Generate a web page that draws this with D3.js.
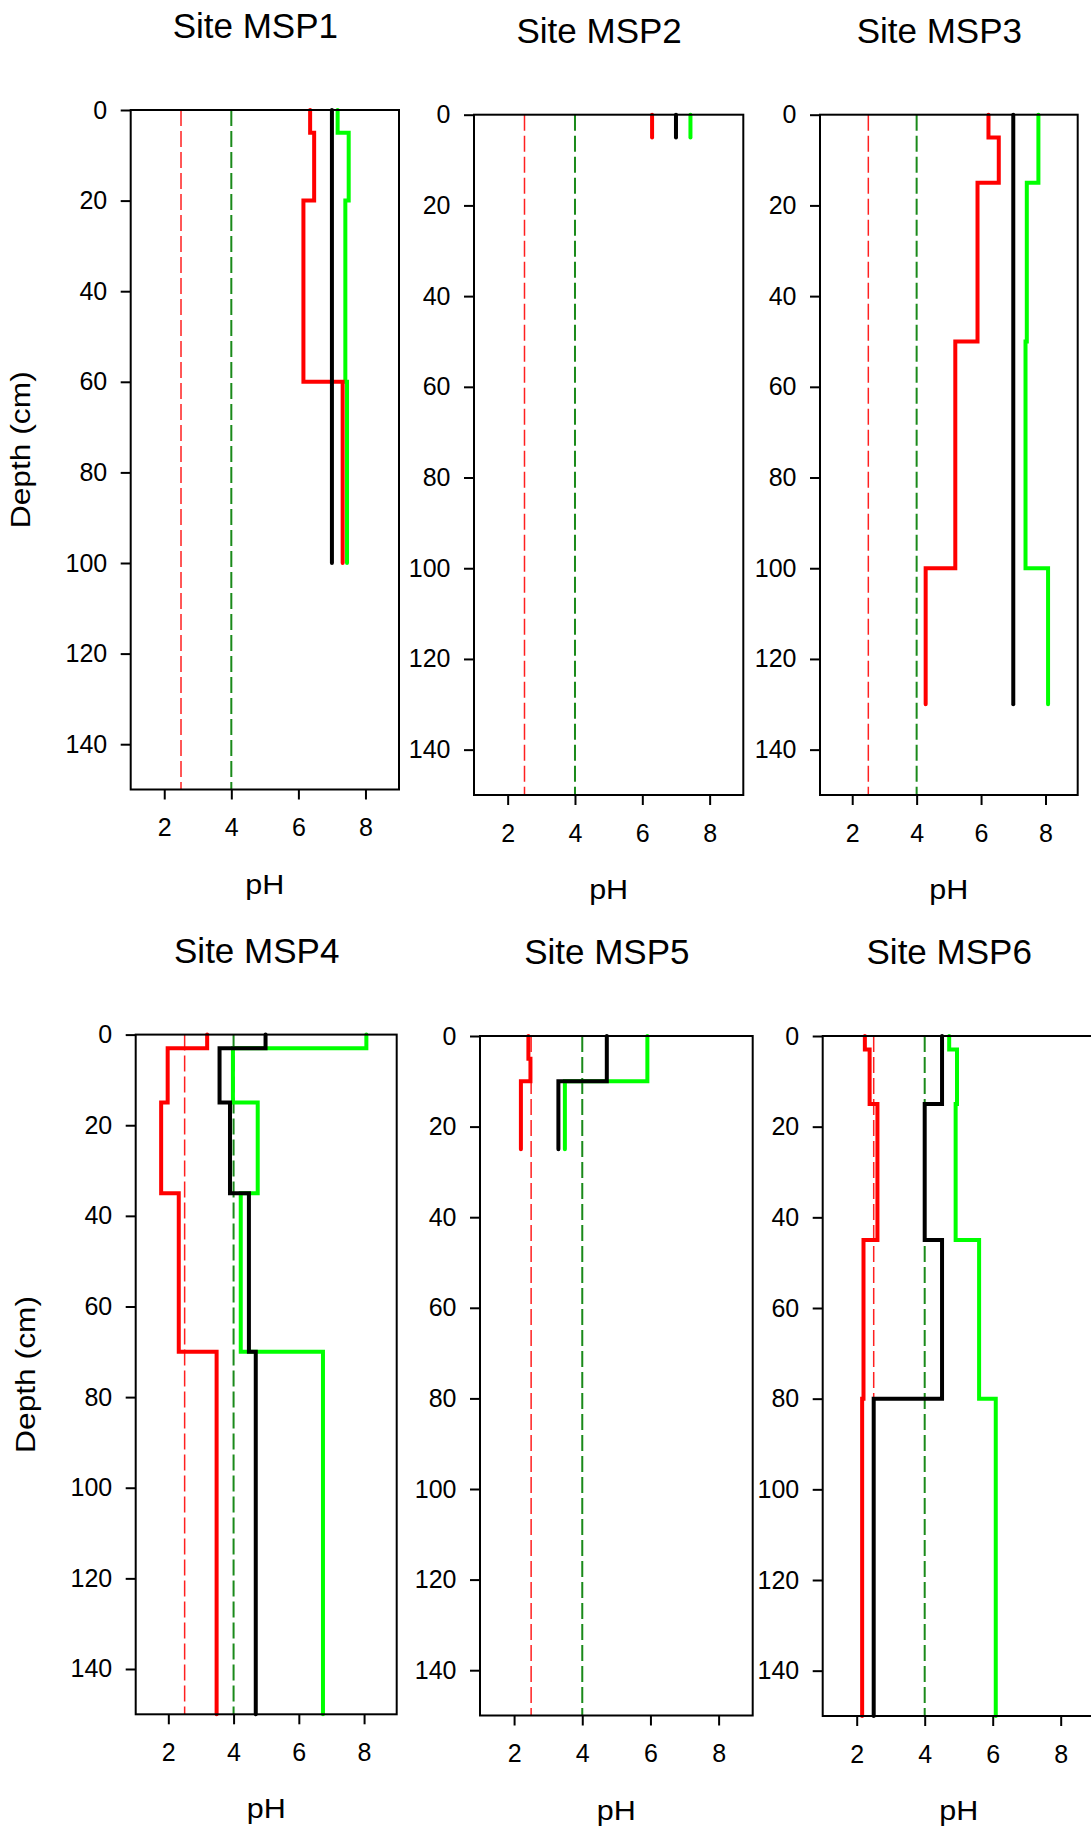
<!DOCTYPE html>
<html>
<head>
<meta charset="utf-8">
<script src="https://cdn.jsdelivr.net/npm/d3@7"></script>
<style>
  html, body { margin: 0; padding: 0; background: #ffffff; }
  svg { display: block; }
  text { font-family: "Liberation Sans", Arial, Helvetica, sans-serif; fill: #000; }
</style>
</head>
<body>
<script>
// ---------------- DATA ----------------
const siteTitles = ["Site MSP1", "Site MSP2", "Site MSP3", "Site MSP4", "Site MSP5", "Site MSP6"];

// depth boundaries (cm) of each sampled layer, per site
const depthBreaks = [
  [0, 5, 20, 60, 100],
  [0, 5],
  [0, 5, 15, 50, 100, 130],
  [0, 3, 15, 35, 70, 150],
  [0, 5, 10, 25],
  [0, 3, 15, 45, 80, 150]
];

// pH of each layer (red series)
const redPH = [
  [6.35, 6.47, 6.15, 7.32],
  [6.29],
  [6.23, 6.55, 5.89, 5.20, 4.28],
  [3.19, 1.98, 1.78, 2.32, 3.48],
  [2.42, 2.48, 2.20],
  [2.24, 2.38, 2.61, 2.20, 2.16]
];

// pH of each layer (black series)
const blackPH = [
  [7.00, 7.00, 7.00, 7.00],
  [7.00],
  [7.00, 7.00, 7.00, 7.00, 7.00],
  [4.98, 3.57, 3.89, 4.47, 4.68],
  [4.72, 4.72, 3.30],
  [4.51, 4.51, 4.00, 4.51, 2.50]
];

// pH of each layer (green series)
const greenPH = [
  [7.17, 7.50, 7.40, 7.45],
  [7.43],
  [7.78, 7.78, 7.42, 7.38, 8.08],
  [8.07, 3.98, 4.74, 4.22, 6.74],
  [5.91, 5.91, 3.49],
  [4.72, 4.95, 4.91, 5.60, 6.09]
];

// reference thresholds (dashed lines)
const redThreshold = 2.5;
const greenThreshold = 4.0;

// axes
const phDomain = [1, 9];
const depthDomain = [0, 150];
const phTicks = [2, 4, 6, 8];
const depthTicks = [0, 20, 40, 60, 80, 100, 120, 140];
const xAxisLabel = "pH";
const yAxisLabel = "Depth (cm)";

// ---------------- LAYOUT ----------------
const panelBoxes = [
  { left: 130.7, right: 399.0, top: 110.0, bottom: 789.5, ylab: true },
  { left: 474.0, right: 743.3, top: 114.7, bottom: 795.0, ylab: false },
  { left: 820.0, right: 1077.7, top: 114.7, bottom: 795.0, ylab: false },
  { left: 135.7, right: 396.7, top: 1034.6, bottom: 1714.3, ylab: true },
  { left: 480.0, right: 752.7, top: 1036.0, bottom: 1715.5, ylab: false },
  { left: 822.7, right: 1094.7, top: 1036.0, bottom: 1716.0, ylab: false }
];

const W = 1091, H = 1830;
const svg = d3.select("body").append("svg")
  .attr("width", W).attr("height", H)
  .attr("viewBox", `0 0 ${W} ${H}`);

const seriesStyles = [
  { key: "green", data: greenPH, color: "#00ff00" },
  { key: "red", data: redPH, color: "#ff0000" },
  { key: "black", data: blackPH, color: "#000000" }
];

panelBoxes.forEach((box, i) => {
  const g = svg.append("g");
  const x = d3.scaleLinear().domain(phDomain).range([box.left, box.right]);
  const y = d3.scaleLinear().domain(depthDomain).range([box.top, box.bottom]);

  // threshold dashed lines
  g.append("line")
    .attr("x1", x(redThreshold)).attr("x2", x(redThreshold))
    .attr("y1", y(depthDomain[0])).attr("y2", y(depthDomain[1]))
    .attr("stroke", "#ff2020").attr("stroke-width", 1.5)
    .attr("stroke-dasharray", "16,5");
  g.append("line")
    .attr("x1", x(greenThreshold)).attr("x2", x(greenThreshold))
    .attr("y1", y(depthDomain[0])).attr("y2", y(depthDomain[1]))
    .attr("stroke", "#1a8a1a").attr("stroke-width", 2)
    .attr("stroke-dasharray", "16,5");

  // step profiles
  const breaks = depthBreaks[i];
  const line = d3.line().x(d => x(d[0])).y(d => y(d[1]));
  seriesStyles.forEach(s => {
    const vals = s.data[i];
    const pts = [];
    vals.forEach((v, k) => {
      pts.push([v, breaks[k]]);
      pts.push([v, breaks[k + 1]]);
    });
    g.append("path")
      .attr("d", line(pts))
      .attr("fill", "none")
      .attr("stroke", s.color)
      .attr("stroke-width", 4)
      .attr("stroke-linejoin", "miter")
      .attr("stroke-linecap", "round");
  });

  // box
  g.append("rect")
    .attr("x", box.left).attr("y", box.top)
    .attr("width", box.right - box.left).attr("height", box.bottom - box.top)
    .attr("fill", "none").attr("stroke", "#000").attr("stroke-width", 2);

  // y axis
  const yAxis = g.append("g")
    .attr("transform", `translate(${box.left},0)`)
    .call(d3.axisLeft(y).tickValues(depthTicks).tickSize(10).tickPadding(13.5));
  yAxis.select(".domain").remove();
  yAxis.selectAll(".tick line").attr("stroke", "#000").attr("stroke-width", 2);
  yAxis.selectAll(".tick text")
    .style("font-size", "25px")
    .style("font-family", "'Liberation Sans', Arial, sans-serif")
    .attr("fill", "#000");

  // x axis
  const xAxis = g.append("g")
    .attr("transform", `translate(0,${box.bottom})`)
    .call(d3.axisBottom(x).tickValues(phTicks).tickSize(10).tickPadding(19));
  xAxis.select(".domain").remove();
  xAxis.selectAll(".tick line").attr("stroke", "#000").attr("stroke-width", 2);
  xAxis.selectAll(".tick text")
    .style("font-size", "25px")
    .style("font-family", "'Liberation Sans', Arial, sans-serif")
    .attr("fill", "#000");

  const cx = (box.left + box.right) / 2;

  // title
  g.append("text")
    .attr("x", cx - 9.5).attr("y", box.top - 72)
    .attr("text-anchor", "middle")
    .style("font-size", "35px")
    .text(siteTitles[i]);

  // x label
  g.append("text")
    .attr("x", cx).attr("y", box.bottom + 104)
    .attr("text-anchor", "middle")
    .style("font-size", "27px")
    .attr("textLength", 39)
    .attr("lengthAdjust", "spacingAndGlyphs")
    .text(xAxisLabel);

  // y label
  if (box.ylab) {
    const ly = (box.top + box.bottom) / 2;
    const lx = box.left - 101;
    g.append("text")
      .attr("transform", `translate(${lx},${ly}) rotate(-90)`)
      .attr("x", -78.5)
      .attr("text-anchor", "start")
      .style("font-size", "27px")
      .attr("textLength", 157)
      .attr("lengthAdjust", "spacingAndGlyphs")
      .text(yAxisLabel);
  }
});
</script>
</body>
</html>
